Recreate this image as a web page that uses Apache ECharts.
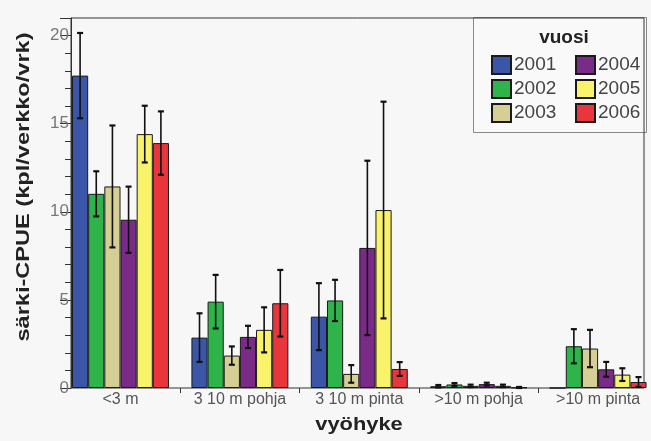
<!DOCTYPE html>
<html>
<head>
<meta charset="utf-8">
<script src="https://cdn.jsdelivr.net/npm/echarts@6/dist/echarts.min.js"></script>
<style>
html,body{margin:0;padding:0;background:#f7f7f7;}
#c{width:651px;height:441px;}
</style>
</head>
<body>
<div id="c"></div>
<script>
// ---- data ----
const categories = ['<3 m', '3 10 m pohja', '3 10 m pinta', '>10 m pohja', '>10 m pinta'];
const years = ['2001', '2002', '2003', '2004', '2005', '2006'];
const cpue2001 = [17.73, 2.86, 4.05, 0.10, 0];
const err2001  = [2.42, 1.38, 1.90, 0.07, 0];
const cpue2002 = [11.02, 4.90, 4.97, 0.20, 2.37];
const err2002  = [1.28, 1.52, 1.17, 0.08, 0.97];
const cpue2003 = [11.44, 1.84, 0.80, 0.12, 2.24];
const err2003  = [3.46, 0.52, 0.50, 0.07, 1.06];
const cpue2004 = [9.55, 2.90, 7.95, 0.22, 1.06];
const err2004  = [1.88, 0.63, 4.95, 0.08, 0.42];
const cpue2005 = [14.41, 3.30, 10.10, 0.12, 0.76];
const err2005  = [1.61, 1.28, 6.15, 0.07, 0.36];
const cpue2006 = [13.90, 4.81, 1.08, 0.03, 0.34];
const err2006  = [1.80, 1.89, 0.39, 0.03, 0.28];
const yMin = 0, yMax = 21, yInterval = 5;
const yAxisTitle = 'särki-CPUE (kpl/verkko/vrk)';
const xAxisTitle = 'vyöhyke';
const legendTitle = 'vuosi';

const values = [cpue2001, cpue2002, cpue2003, cpue2004, cpue2005, cpue2006];
const errors = [err2001, err2002, err2003, err2004, err2005, err2006];
const colors = ['#3b56a6', '#2fb34b', '#d6cf95', '#7a2b87', '#f8f36b', '#e8363c'];
const catGap = 0.188;

const chart = echarts.init(document.getElementById('c'), null, {renderer: 'canvas'});

const series = [];
years.forEach((y, j) => {
  series.push({
    name: y, type: 'bar', xAxisIndex: 1, yAxisIndex: 1,
    data: values[j], barGap: '0%', barCategoryGap: (catGap * 100) + '%',
    itemStyle: {color: colors[j], borderColor: '#1a1a1a', borderWidth: 1},
    emphasis: {disabled: true}, animation: false
  });
});
years.forEach((y, j) => {
  series.push({
    name: 'err' + y, type: 'custom', xAxisIndex: 1, yAxisIndex: 1, z: 5,
    animation: false, silent: true,
    data: values[j].map((v, i) => [i, v - errors[j][i], v + errors[j][i], errors[j][i]]),
    renderItem: function (params, api) {
      if (api.value(3) <= 0) return null;
      const top = api.coord([api.value(0), api.value(2)]);
      const bot = api.coord([api.value(0), api.value(1)]);
      const band = api.size([1, 0])[0];
      const groupW = band * (1 - catGap);
      const barW = groupW / years.length;
      const x = top[0] - groupW / 2 + barW * (j + 0.5);
      const cap = 3;
      const st = {stroke: '#111', lineWidth: 1.6};
      return {type: 'group', children: [
        {type: 'line', shape: {x1: x, y1: top[1], x2: x, y2: bot[1]}, style: st},
        {type: 'line', shape: {x1: x - cap, y1: top[1], x2: x + cap, y2: top[1]}, style: {stroke: '#111', lineWidth: 2.2}},
        {type: 'line', shape: {x1: x - cap, y1: bot[1], x2: x + cap, y2: bot[1]}, style: {stroke: '#111', lineWidth: 2.2}}
      ]};
    }
  });
});

const legendCommon = {
  orient: 'vertical', itemWidth: 19, itemHeight: 18, itemGap: 4, icon: 'rect',
  selectedMode: false, padding: 0,
  textStyle: {fontFamily: 'Liberation Sans, Arial, sans-serif', fontSize: 19, color: '#444', lineHeight: 18, padding: [0, 0, 0, -2]}
};

chart.setOption({
  backgroundColor: '#f7f7f7',
  animation: false,
  grid: [
    {left: 71, top: 18, right: 7, bottom: 53, show: true, borderColor: '#333', borderWidth: 1, backgroundColor: 'transparent', outerBoundsMode: 'none'},
    {left: 60.8, top: 18, width: 597, bottom: 53, show: false, outerBoundsMode: 'none'}
  ],
  xAxis: [
    {type: 'category', gridIndex: 0, data: categories, show: false},
    {type: 'category', gridIndex: 1, data: categories,
      axisLine: {show: false},
      axisTick: {show: true, length: 5, lineStyle: {color: '#333'}, interval: function (i) { return i !== 0; }},
      axisLabel: {interval: 0, hideOverlap: false, fontFamily: 'Liberation Sans, Arial, sans-serif', fontSize: 16, color: '#555', margin: 4}
    }
  ],
  yAxis: [
    {type: 'value', gridIndex: 0, min: yMin, max: yMax, interval: yInterval,
      axisLine: {show: true, lineStyle: {color: '#333', width: 1}},
      axisTick: {show: true, length: 11, lineStyle: {color: '#333'}},
      minorTick: {show: true, splitNumber: 5, length: 6, lineStyle: {color: '#333'}},
      splitLine: {show: false},
      axisLabel: {fontFamily: 'Liberation Sans, Arial, sans-serif', fontSize: 17, color: '#777', margin: 2, showMaxLabel: false}
    },
    {type: 'value', gridIndex: 1, min: yMin, max: yMax, interval: yInterval, show: false}
  ],
  legend: [
    Object.assign({}, legendCommon, {left: 491, top: 55, data: years.slice(0, 3)}),
    Object.assign({}, legendCommon, {left: 575, top: 55, data: years.slice(3, 6)})
  ],
  graphic: [
    {type: 'rect', left: 473, top: 17, shape: {width: 173, height: 115}, style: {fill: '#f9f9f9', stroke: '#888', lineWidth: 1}, z: -1},
    {type: 'text', x: 564, y: 38, style: {text: legendTitle, font: 'bold 19px Liberation Sans, Arial, sans-serif', fill: '#222', textAlign: 'center', textVerticalAlign: 'middle'}},
    {type: 'text', x: 24, y: 187, rotation: Math.PI / 2, scaleX: 1.24, style: {text: yAxisTitle, font: 'bold 19px Liberation Sans, Arial, sans-serif', fill: '#222', textAlign: 'center', textVerticalAlign: 'middle'}},
    {type: 'text', x: 359, y: 425, scaleX: 1.15, style: {text: xAxisTitle, font: 'bold 19px Liberation Sans, Arial, sans-serif', fill: '#222', textAlign: 'center', textVerticalAlign: 'middle'}}
  ],
  series: series
});
</script>
</body>
</html>
